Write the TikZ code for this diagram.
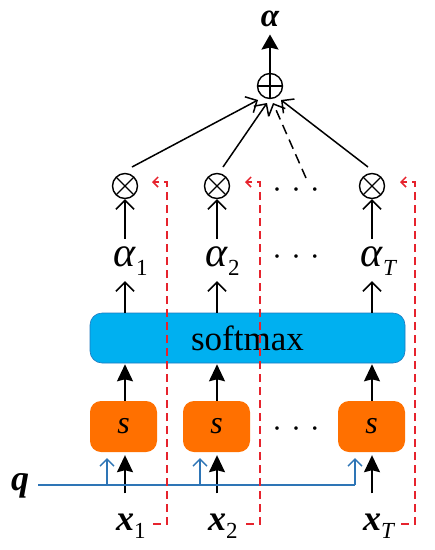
\documentclass[tikz,border=0pt]{standalone}
\usepackage{fontspec}
\setmainfont{Liberation Serif}
\usetikzlibrary{arrows.meta,calc}
\definecolor{smblue}{RGB}{0,176,240}
\definecolor{smedge}{RGB}{30,120,190}
\definecolor{sorange}{RGB}{255,112,0}
\definecolor{qblue}{RGB}{46,117,182}
\definecolor{rdash}{RGB}{230,35,45}
\tikzset{
  openarr/.style={line width=1.5pt,-{Straight Barb[length=9pt,width=18pt]}},
  fillarr/.style={line width=1.5pt,-{Stealth[length=17pt,width=16pt,inset=2pt]}},
  redarr/.style={rdash,line width=1.5pt,dash pattern=on 8pt off 5pt,-{Straight Barb[length=5pt,width=10pt]}},
  bluearr/.style={qblue,line width=1.3pt,-{Straight Barb[length=7pt,width=14pt]}},
  sumnode/.style={circle,draw,line width=1.4pt,minimum size=25pt,inner sep=0pt,
    path picture={\draw[line width=1.4pt] (path picture bounding box.north) -- (path picture bounding box.south)
      (path picture bounding box.west) -- (path picture bounding box.east);}},
  mulnode/.style={circle,draw,line width=1.4pt,minimum size=25pt,inner sep=0pt,
    path picture={\draw[line width=1.4pt] ([shift={(45:12.5pt)}]path picture bounding box.center) -- ([shift={(225:12.5pt)}]path picture bounding box.center)
      ([shift={(135:12.5pt)}]path picture bounding box.center) -- ([shift={(315:12.5pt)}]path picture bounding box.center);}},
  sbox/.style={rectangle,rounded corners=11pt,fill=sorange,minimum width=67pt,minimum height=51pt,inner sep=0pt},
  smbox/.style={rectangle,rounded corners=12pt,fill=smblue,draw=smedge,line width=0.6pt,minimum width=315pt,minimum height=50pt,inner sep=0pt},
  lab/.style={inner sep=0pt,anchor=base},
  dots/.style={inner sep=0pt,font=\fontsize{30}{30}\selectfont}
}
\newcommand{\alab}[1]{{\fontsize{42}{42}\selectfont\itshape α}\rlap{\raisebox{-9pt}{\fontsize{23}{23}\selectfont #1}}}
\newcommand{\xlab}[1]{{\fontsize{36}{36}\selectfont\bfseries\itshape x}\rlap{\raisebox{-8pt}{\fontsize{23}{23}\selectfont #1}}}
\begin{document}
\begin{tikzpicture}[x=1pt,y=-1pt]
\useasboundingbox (0,0) rectangle (435,550);
% top
\node[lab] (atop) at (270,26) {\fontsize{33}{33}\selectfont\bfseries\itshape α};
\node[sumnode] (sum) at (270,86) {};
% multiply nodes
\node[mulnode] (m1) at (125,186) {};
\node[mulnode] (m2) at (217,186) {};
\node[mulnode] (m3) at (372,186) {};
% alpha labels
\node[lab] (a1) at (125,266) {\alab{1}};
\node[lab] (a2) at (217,266) {\alab{2}};
\node[lab] (a3) at (372,266) {\alab{\itshape T}};
% softmax
\node[smbox] (sm) at (247.5,338) {\fontsize{35}{35}\selectfont softmax};
% s boxes
\node[sbox] (s1) at (123.5,426.5) {\fontsize{32}{32}\selectfont\itshape s};
\node[sbox] (s2) at (216.5,426.5) {\fontsize{32}{32}\selectfont\itshape s};
\node[sbox] (s3) at (371.5,426.5) {\fontsize{32}{32}\selectfont\itshape s};
% x labels
\node[lab] (x1) at (125,530) {\xlab{1}};
\node[lab] (x2) at (217,530) {\xlab{2}};
\node[lab] (x3) at (372,530) {\xlab{\itshape T}};
% q
\node[lab] (q) at (20,490) {\fontsize{36}{36}\selectfont\bfseries\itshape q};
% dots
\node[dots] (d1) at (296,194) {·\hspace{9pt}·\hspace{9pt}·};
\node[dots] (d2) at (296,261) {·\hspace{9pt}·\hspace{9pt}·};
\node[dots] (d3) at (296,433) {·\hspace{9pt}·\hspace{9pt}·};

% sum to top
\draw[line width=1.5pt,-{Stealth[length=15pt,width=17pt,inset=2pt]},shorten >=8pt] (sum) -- (atop);
% into sum
\coordinate (c1s) at (132,167); \coordinate (c1e) at (258,100);
\coordinate (c2s) at (223,167); \coordinate (c2e) at (267,103);
\coordinate (c3s) at (306,178); \coordinate (c3e) at (273,103);
\coordinate (c4s) at (368,167); \coordinate (c4e) at (281,100);
\draw[openarr] (c1s) -- (c1e);
\draw[openarr] (c2s) -- (c2e);
\draw[openarr,dash pattern=on 10pt off 6pt] (c3s) -- (c3e);
\draw[openarr] (c4s) -- (c4e);
% alpha to multiply
\foreach \i in {1,2,3}{
  \draw[openarr,shorten <=7pt] (a\i.north) -- (m\i.south);
  \draw[openarr,shorten >=6pt] (sm.north -| a\i) -- (a\i.south);
  \draw[fillarr,shorten >=1pt] (s\i.north -| a\i) -- (sm.south -| a\i);
  \draw[fillarr,shorten <=20pt,shorten >=3pt] (x\i.north) -- (s\i.south -| x\i);
}
% q line
\coordinate (qb1) at (107,485); \coordinate (qb2) at (200,485); \coordinate (qb3) at (355,485);
\draw[qblue,line width=1.3pt] ([xshift=9pt]q.east |- qb1) -- (qb3);
\draw[bluearr,shorten >=6pt] (qb1) -- (qb1 |- s1.south);
\draw[bluearr,shorten >=6pt] (qb2) -- (qb2 |- s2.south);
\draw[bluearr,shorten >=6pt] (qb3) -- (qb3 |- s3.south);
% red feedback
\coordinate (r1a) at (153,524); \coordinate (r1b) at (167,524); \coordinate (r1c) at (167,182); \coordinate (r1d) at (152,182);
\coordinate (r2a) at (246,524); \coordinate (r2b) at (260,524); \coordinate (r2c) at (260,182); \coordinate (r2d) at (245,182);
\coordinate (r3a) at (401,524); \coordinate (r3b) at (415,524); \coordinate (r3c) at (415,182); \coordinate (r3d) at (400,182);
\draw[redarr] (r1a) -- (r1b) -- (r1c) -- (r1d);
\draw[redarr] (r2a) -- (r2b) -- (r2c) -- (r2d);
\draw[redarr] (r3a) -- (r3b) -- (r3c) -- (r3d);
\end{tikzpicture}
\end{document}
